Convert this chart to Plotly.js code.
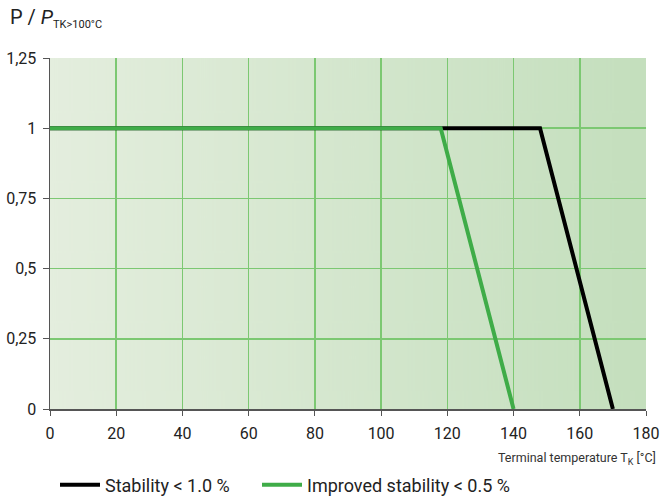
<!DOCTYPE html>
<html>
<head>
<meta charset="utf-8">
<script src="https://cdn.plot.ly/plotly-3.0.1.min.js"></script>
<style>
  html, body { margin: 0; padding: 0; background: #fff; }
  #chart { width: 660px; height: 497px; }
</style>
</head>
<body>
<div id="chart"></div>
<script>
// Derating curves: relative power vs. terminal temperature
const stdTemp = [0, 148, 170];
const stdPower = [1, 1, 0];
const impTemp = [0, 118, 140];
const impPower = [1, 1, 0];

const xTicks = [0, 20, 40, 60, 80, 100, 120, 140, 160, 180];
const yTicks = [0, 0.25, 0.5, 0.75, 1, 1.25];
const yTickText = ['0', '0,25', '0,5', '0,75', '1', '1,25'];

const FONT = 'Roboto, "DejaVu Sans", sans-serif';
const TEXT = '#222';

// Horizontal green gradient used as the plot background
function gradientURL() {
  const c = document.createElement('canvas');
  c.width = 600; c.height = 10;
  const g = c.getContext('2d');
  const grd = g.createLinearGradient(0, 0, 600, 0);
  grd.addColorStop(0, '#e4eede');
  grd.addColorStop(1, '#c4dfbd');
  g.fillStyle = grd;
  g.fillRect(0, 0, 600, 10);
  return c.toDataURL('image/png');
}

const traces = [
  {
    x: stdTemp, y: stdPower, mode: 'lines', name: 'Stability < 1.0 %',
    line: { color: '#000000', width: 4 }, legend: 'legend'
  },
  {
    x: impTemp, y: impPower, mode: 'lines', name: 'Improved stability < 0.5 %',
    line: { color: '#3fac48', width: 4 }, legend: 'legend2'
  }
];

const legendBase = {
  orientation: 'h', xref: 'container', yref: 'container',
  xanchor: 'left', yanchor: 'middle', y: 0.024,
  font: { family: FONT, size: 18, color: TEXT },
  itemwidth: 40, bgcolor: 'rgba(0,0,0,0)', borderwidth: 0
};

const layout = {
  width: 660, height: 497,
  margin: { l: 50, r: 14, t: 58, b: 88, autoexpand: false },
  paper_bgcolor: '#ffffff',
  plot_bgcolor: 'rgba(0,0,0,0)',
  font: { family: FONT, size: 16, color: TEXT },
  showlegend: true,
  legend: Object.assign({}, legendBase, { x: 55 / 660 }),
  legend2: Object.assign({}, legendBase, { x: 257 / 660 }),
  xaxis: {
    range: [0, 180], tickvals: xTicks, ticktext: xTicks.map(String),
    showgrid: true, gridcolor: '#7cc872', gridwidth: 1.5,
    zeroline: false, showline: true, linecolor: '#555', linewidth: 1.5,
    ticks: 'outside', ticklen: 5, tickcolor: '#555', ticklabelstandoff: 4,
    tickfont: { family: FONT, size: 16, color: TEXT }
  },
  yaxis: {
    range: [0, 1.25], tickvals: yTicks, ticktext: yTickText,
    showgrid: true, gridcolor: '#7cc872', gridwidth: 1.5,
    zeroline: false, showline: true, linecolor: '#555', linewidth: 1.5,
    ticks: 'outside', ticklen: 6, tickcolor: '#555', ticklabelstandoff: 3,
    tickfont: { family: FONT, size: 16, color: TEXT }
  },
  images: [{
    source: gradientURL(), xref: 'paper', yref: 'paper',
    x: 0, y: 1, sizex: 1, sizey: 1, sizing: 'stretch', layer: 'below'
  }],
  annotations: [
    {
      text: 'P / <i>P</i><sub><span style="font-size:11px">TK>100°C</span></sub>',
      xref: 'paper', yref: 'paper',
      x: -0.07, y: 1.07, xanchor: 'left', yanchor: 'bottom', showarrow: false,
      font: { family: FONT, size: 20, color: TEXT }
    },
    {
      text: 'Terminal temperature T<sub><span style="font-size:9px">K</span></sub> [°C]',
      xref: 'paper', yref: 'paper',
      x: 1.02, y: -0.11, xanchor: 'right', yanchor: 'top', showarrow: false,
      font: { family: FONT, size: 12.5, color: '#333' }
    }
  ]
};

Plotly.newPlot('chart', traces, layout, { displayModeBar: false, staticPlot: true });
</script>
</body>
</html>
